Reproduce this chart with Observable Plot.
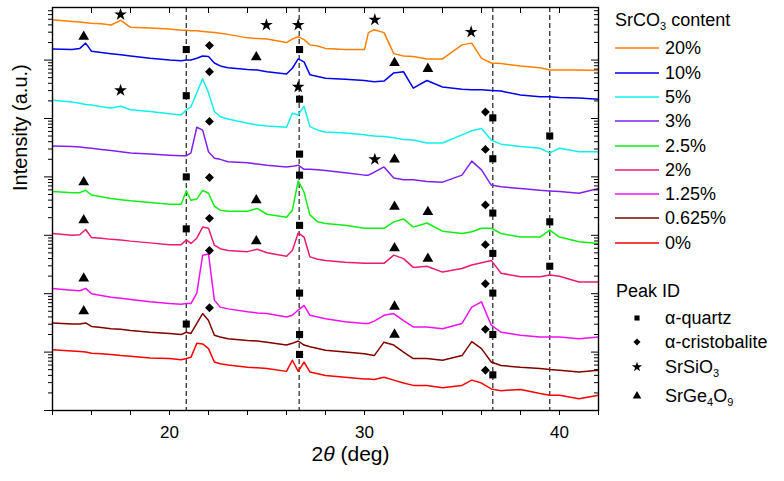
<!DOCTYPE html>
<html>
<head>
<meta charset="utf-8">
<script src="https://cdn.jsdelivr.net/npm/d3@7"></script>
<script src="https://cdn.jsdelivr.net/npm/@observablehq/plot@0.6"></script>
<style>
  body { margin: 0; background: #fff; font-family: "Liberation Sans", Arial, sans-serif; }
  #wrap { position: relative; width: 784px; height: 481px; }
  .leg { position: absolute; font-size: 18px; line-height: 1; color: #000; white-space: nowrap; }
  .leg sub { font-size: 11px; vertical-align: -4px; line-height: 0; }
</style>
</head>
<body>
<div id="wrap"><div id="chart"></div><div id="legend"></div></div>
<script>
// 2θ sample positions (deg)
const twoTheta = [14, 15, 15.4, 15.7, 16, 16.5, 17, 17.5, 18, 19, 20, 20.6, 20.86, 21.1, 21.4, 21.7, 22.0, 22.3, 22.6, 23,
  24, 24.5, 25, 26, 26.3, 26.6, 26.9, 27.2, 27.6, 28, 29, 30, 30.2, 30.5, 31, 31.5, 32, 32.5, 33.2, 34,
  35, 35.5, 36, 36.5, 37, 38, 39, 39.5, 40, 41, 42];

// log10 intensity (a.u., offset traces)
const sr20 = [6.69, 6.66, 6.65, 6.64, 6.63, 6.62, 6.60, 6.68, 6.56, 6.55, 6.53, 6.51, 6.51, 6.50, 6.50, 6.49, 6.48, 6.47, 6.46, 6.44,
  6.38, 6.37, 6.36, 6.30, 6.36, 6.40, 6.35, 6.26, 6.24, 6.20, 6.18, 6.18, 6.47, 6.52, 6.47, 6.11, 6.07, 6.06, 6.02, 6.02,
  6.26, 6.29, 6.03, 5.95, 5.94, 5.90, 5.87, 5.83, 5.83, 5.83, 5.82];
const sr10 = [6.19, 6.18, 6.20, 6.29, 6.15, 6.13, 6.11, 6.09, 6.07, 6.03, 6.00, 5.99, 6.00, 6.00, 6.03, 6.07, 6.06, 5.95, 5.90, 5.87,
  5.84, 5.83, 5.80, 5.76, 5.86, 6.02, 5.97, 5.75, 5.72, 5.69, 5.67, 5.65, 5.64, 5.63, 5.64, 5.78, 5.80, 5.52, 5.65, 5.54,
  5.50, 5.49, 5.49, 5.48, 5.47, 5.40, 5.37, 5.37, 5.36, 5.35, 5.33];
const sr5 = [5.31, 5.28, 5.26, 5.24, 5.23, 5.20, 5.18, 5.21, 5.15, 5.12, 5.08, 5.06, 5.15, 5.20, 5.44, 5.68, 5.44, 5.12, 5.03, 4.99,
  4.92, 4.89, 4.87, 4.85, 5.09, 5.06, 5.21, 4.86, 4.80, 4.77, 4.75, 4.72, 4.71, 4.70, 4.69, 4.67, 4.64, 4.63, 4.58, 4.58,
  4.72, 4.79, 4.83, 4.63, 4.56, 4.52, 4.49, 4.41, 4.49, 4.43, 4.43];
const sr3 = [4.53, 4.52, 4.51, 4.50, 4.49, 4.47, 4.45, 4.43, 4.41, 4.39, 4.37, 4.36, 4.36, 4.41, 4.85, 4.80, 4.43, 4.32, 4.30, 4.26,
  4.24, 4.22, 4.20, 4.17, 4.18, 4.20, 4.13, 4.13, 4.12, 4.11, 4.07, 4.03, 4.03, 4.08, 4.17, 3.98, 3.95, 3.95, 3.92, 3.91,
  4.03, 4.27, 4.12, 3.86, 3.83, 3.80, 3.77, 3.76, 3.75, 3.72, 3.80];
const sr2_5 = [3.75, 3.73, 3.73, 3.77, 3.69, 3.66, 3.63, 3.61, 3.59, 3.56, 3.53, 3.53, 3.76, 3.60, 3.62, 3.77, 3.72, 3.50, 3.43, 3.41,
  3.41, 3.46, 3.36, 3.31, 3.43, 3.93, 3.74, 3.35, 3.23, 3.20, 3.17, 3.12, 3.12, 3.12, 3.12, 3.23, 3.28, 3.14, 3.21, 3.07,
  3.03, 3.06, 3.12, 3.12, 3.03, 2.97, 2.97, 3.09, 2.97, 2.89, 2.86];
const sr2 = [3.03, 3.00, 3.01, 3.10, 2.96, 2.95, 2.93, 2.92, 2.90, 2.87, 2.84, 2.84, 2.92, 2.86, 2.95, 3.14, 3.12, 2.83, 2.77, 2.74,
  2.72, 2.76, 2.70, 2.64, 2.74, 3.04, 2.97, 2.63, 2.59, 2.57, 2.54, 2.52, 2.52, 2.52, 2.52, 2.66, 2.60, 2.45, 2.47, 2.37,
  2.43, 2.49, 2.53, 2.57, 2.35, 2.29, 2.29, 2.32, 2.30, 2.20, 2.20];
const sr1_25 = [2.09, 2.06, 2.05, 2.09, 2.00, 1.97, 1.94, 1.92, 1.90, 1.86, 1.83, 1.82, 1.83, 1.83, 2.01, 2.66, 2.68, 1.89, 1.77, 1.74,
  1.69, 1.67, 1.66, 1.60, 1.63, 1.72, 1.80, 1.63, 1.60, 1.57, 1.52, 1.49, 1.49, 1.53, 1.63, 1.66, 1.54, 1.43, 1.43, 1.40,
  1.49, 1.77, 1.86, 1.46, 1.34, 1.29, 1.26, 1.26, 1.26, 1.23, 1.26];
const sr0_625 = [1.50, 1.48, 1.48, 1.50, 1.44, 1.42, 1.40, 1.39, 1.37, 1.34, 1.32, 1.30, 1.34, 1.32, 1.49, 1.66, 1.54, 1.29, 1.26, 1.23,
  1.20, 1.19, 1.17, 1.12, 1.15, 1.19, 1.12, 1.09, 1.06, 1.03, 1.00, 0.97, 0.96, 0.94, 1.17, 1.12, 1.00, 0.89, 0.89, 0.86,
  0.94, 1.18, 1.06, 0.83, 0.77, 0.74, 0.72, 0.70, 0.69, 0.66, 0.69];
const sr0 = [1.04, 1.02, 1.01, 1.00, 0.98, 0.97, 0.96, 0.94, 0.93, 0.90, 0.89, 0.87, 0.89, 0.91, 1.15, 1.14, 1.06, 0.83, 0.80, 0.78,
  0.74, 0.73, 0.72, 0.67, 0.86, 0.67, 0.83, 0.66, 0.63, 0.60, 0.57, 0.54, 0.54, 0.53, 0.57, 0.52, 0.47, 0.43, 0.43, 0.39,
  0.43, 0.52, 0.47, 0.37, 0.34, 0.36, 0.29, 0.26, 0.26, 0.20, 0.26];

const series = ["20%", "10%", "5%", "3%", "2.5%", "2%", "1.25%", "0.625%", "0%"];
const colors = ["#ff8000", "#0000ee", "#11eeee", "#8020f0", "#11ee11", "#ec1a70", "#f010f0", "#800000", "#ff0000"];
const traces = [sr20, sr10, sr5, sr3, sr2_5, sr2, sr1_25, sr0_625, sr0];

// peak labels: [2θ, log10 height of marker]
const quartzPeaks = [[20.86, 6.18], [26.67, 6.18], [20.86, 5.39], [26.67, 5.33], [36.58, 5.01], [39.5, 4.70],
  [26.67, 4.39], [36.58, 4.31], [20.86, 4.00], [26.67, 4.03], [36.58, 3.38], [39.5, 3.23],
  [20.86, 3.11], [26.67, 3.17], [36.58, 2.69], [39.5, 2.47], [26.67, 2.01], [36.58, 2.01],
  [20.86, 1.48], [26.67, 1.30], [36.58, 1.30], [26.67, 0.96], [36.58, 0.61]];
const cristobalitePeaks = [[22.05, 6.25], [22.05, 5.80], [36.2, 5.11], [22.05, 4.95], [36.2, 4.47], [22.05, 3.99],
  [36.2, 3.52], [22.05, 3.29], [36.2, 2.84], [22.05, 2.74], [36.2, 2.17], [22.05, 1.76], [36.2, 1.39], [36.2, 0.69]];
const srSiO3Peaks = [[17.49, 6.78], [24.97, 6.60], [26.6, 6.60], [30.53, 6.69], [35.47, 6.48],
  [17.49, 5.48], [26.6, 5.54], [30.53, 4.30]];
const srGe4O9Peaks = [[15.6, 6.40], [24.45, 6.05], [31.54, 5.95], [33.25, 5.85], [31.54, 4.30],
  [15.6, 3.91], [24.45, 3.60], [31.54, 3.49], [33.25, 3.40], [15.6, 3.26], [24.45, 2.90], [31.54, 2.78],
  [33.25, 2.60], [15.6, 2.26], [31.54, 1.78], [15.6, 1.70], [31.54, 1.30]];

const phases = ["α-quartz", "α-cristobalite", "SrSiO3", "SrGe4O9"];
const phaseSymbols = ["square", "diamond2", "star", "triangle"];
const peakSets = [quartzPeaks, cristobalitePeaks, srSiO3Peaks, srGe4O9Peaks];

// dashed reference lines (α-quartz)
const quartzLines = [20.86, 26.65, 36.58, 39.5];

const xTicks = d3.range(14, 43, 2);
const xLabels = [20, 30, 40];
const yMajor = [1, 10, 100, 1e3, 1e4, 1e5, 1e6];
const yTop = 10 ** 6.9;
const yMinor = yMajor.flatMap((d) => d3.range(2, 10).map((m) => m * d)).filter((d) => d < yTop);

const yLabel = "Intensity (a.u.)";
const xLabel = "2θ (deg)";

const rows = series.flatMap((name, k) =>
  traces[k].map((v, i) => ({name, x: twoTheta[i], y: 10 ** v}))
);
const peaks = phases.flatMap((phase, k) =>
  peakSets[k].map(([x, v]) => ({phase, x, y: 10 ** v}))
);

const W = 784, H = 481, mL = 52, mR = 186, mT = 7, mB = 71;
const plotW = W - mL - mR, plotH = H - mT - mB;

const chart = Plot.plot({
  width: W,
  height: H,
  marginLeft: mL,
  marginRight: mR,
  marginTop: mT,
  marginBottom: mB,
  x: {domain: [14, 42]},
  y: {type: "log", domain: [1, yTop]},
  color: {domain: series, range: colors},
  symbol: {domain: phases, range: phaseSymbols},
  style: {fontFamily: "'Liberation Sans', Arial, sans-serif", fontSize: "17px", color: "black", background: "white"},
  marks: [
    Plot.ruleX(quartzLines, {x: (d) => d, stroke: "#222", strokeWidth: 1.2, strokeDasharray: "5,3"}),
    Plot.line(rows, {x: "x", y: "y", stroke: "name", strokeWidth: 1.5}),
    Plot.dot(peaks, {x: "x", y: "y", symbol: "phase", fill: "black", r: 4}),
    Plot.axisX({ticks: xTicks, tickSize: 5, tickPadding: 10, label: null,
      tickFormat: (d) => (xLabels.includes(d) ? String(d) : "")}),
    Plot.tickX(xTicks, {x: (d) => d, insetBottom: plotH - 6}),
    Plot.axisY({ticks: yMajor, tickSize: 8, tickFormat: () => "", label: null}),
    Plot.axisY({ticks: yMinor, tickSize: 4, tickFormat: () => "", label: null}),
    Plot.tickY(yMajor, {y: (d) => d, insetLeft: plotW - 7}),
    Plot.tickY(yMinor, {y: (d) => d, insetLeft: plotW - 4}),
    Plot.frame({stroke: "black", strokeWidth: 1.4}),
    Plot.text([yLabel], {text: (d) => d, frameAnchor: "left", dx: -32, dy: -18, rotate: -90, fontSize: 20}),
    Plot.text([xLabel], {text: (d) => d, frameAnchor: "bottom", dx: 25, dy: 50, fontSize: 21}),
  ],
});

// italic theta in the x label
d3.select(chart).selectAll("text")
  .filter(function () { return this.textContent === xLabel; })
  .each(function () {
    const t = d3.select(this).text(null);
    t.append("tspan").text("2");
    t.append("tspan").attr("font-style", "italic").text("θ");
    t.append("tspan").text(" (deg)");
  });

d3.select("#chart").append(() => chart);

// legends on the right
const legend = d3.select("#legend");
const sub = (s) => s.replace(/(\d)/g, "<sub>$1</sub>");

legend.append("div").attr("class", "leg").style("left", "615px").style("top", "11px")
  .html(sub("SrCO3") + " content");

series.forEach((name, i) => {
  const cy = 48.3 + 24.3 * i;
  legend.append("svg").attr("width", 44).attr("height", 6)
    .style("position", "absolute").style("left", "615px").style("top", (cy - 3) + "px")
    .append("line").attr("x1", 0).attr("x2", 44).attr("y1", 3).attr("y2", 3)
    .attr("stroke", colors[i]).attr("stroke-width", 1.5);
  legend.append("div").attr("class", "leg")
    .style("left", "665px").style("top", (cy - 9) + "px").text(name);
});

legend.append("div").attr("class", "leg").style("left", "616px").style("top", "282px").text("Peak ID");

const symbolTypes = [d3.symbolSquare, d3.symbolDiamond2, d3.symbolStar, d3.symbolTriangle];
const rowY = [318, 342, 367, 396];
phases.forEach((phase, i) => {
  const cy = rowY[i];
  legend.append("svg").attr("width", 12).attr("height", 12)
    .style("position", "absolute").style("left", "631px").style("top", (cy - 6) + "px")
    .append("path").attr("transform", "translate(6,6)")
    .attr("d", d3.symbol(symbolTypes[i], i === 0 ? 26 : 32)());
  legend.append("div").attr("class", "leg")
    .style("left", "665px").style("top", (cy - 9.5) + "px").html(sub(phase.replace("α", "&alpha;")));
});
</script>
</body>
</html>
